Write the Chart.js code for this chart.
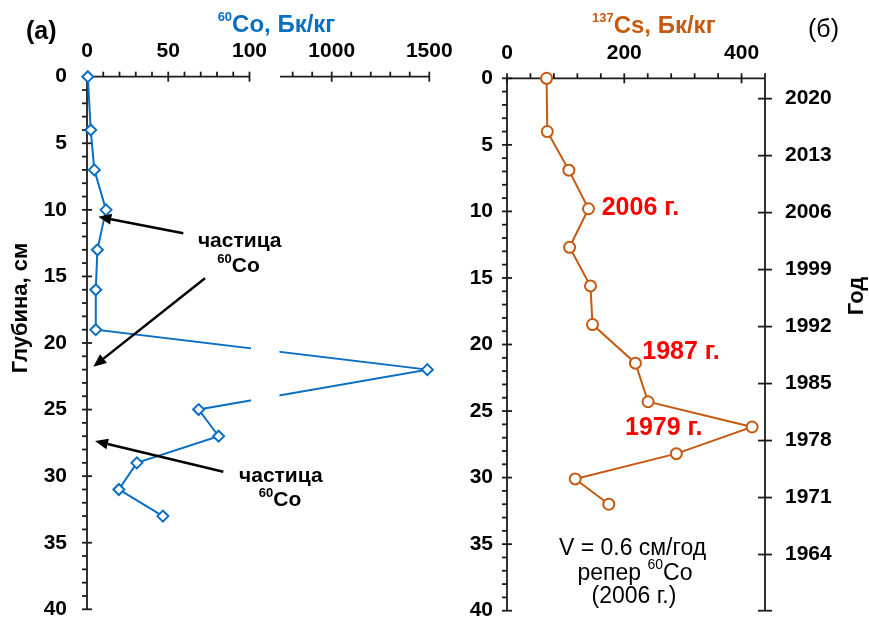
<!DOCTYPE html>
<html><head><meta charset="utf-8">
<script src="https://cdn.jsdelivr.net/npm/chart.js@4"></script>
<style>
html,body{margin:0;padding:0;background:#fff;}
#wrap{position:relative;width:869px;height:619px;overflow:hidden;}
canvas{position:absolute;left:0;top:0;}
</style></head><body>
<div id="wrap"><canvas id="c1" width="869" height="619"></canvas><canvas id="c2" width="869" height="619"></canvas></div>
<script>
// ---- data ----
const coDepth    = [0, 4, 7, 10, 13, 16, 19, 22, 25, 27, 29, 31, 33];
const coActivity = [0.5, 2.3, 4.5, 11.7, 6.4, 5.4, 5.4, 1490, 68.7, 81, 30.7, 19.6, 46.7];
const csDepth    = [0, 4.0, 6.9, 9.8, 12.7, 15.6, 18.5, 21.4, 24.3, 26.2, 28.2, 30.1, 32.0];
const csActivity = [67.5, 68.7, 105.5, 139, 106.7, 142.4, 145.8, 219, 240.6, 418, 288.8, 116.3, 173.6];
const coTickLabels    = [0, 50, 100, 1000, 1500];
const csTickLabels    = [0, 200, 400];
const depthTickLabels = [0, 5, 10, 15, 20, 25, 30, 35, 40];
const yearTickLabels  = [2020, 2013, 2006, 1999, 1992, 1985, 1978, 1971, 1964];

// ---- styles ----
const FONT = "'Liberation Sans', Arial, sans-serif";
const CO_COLOR = '#0B6FC1';
const CS_COLOR = '#C55A11';
const AX = '#1c1c1c';
const tickFont = {family: FONT, size: 21, weight: 'bold'};

// broken axis (low segment 0..100, high segment 735..1500)
const BRK = {from: 100, to: 735, f1: 0.4747, f2: 0.5638};

class BrokenLinearScale extends Chart.LinearScale {
  getPixelForValue(v) {
    const L = this.left, W = this.right - this.left;
    let f;
    if (v <= BRK.from) f = (v - this.min) / (BRK.from - this.min) * BRK.f1;
    else if (v >= BRK.to) f = BRK.f2 + (v - BRK.to) / (this.max - BRK.to) * (1 - BRK.f2);
    else f = BRK.f1 + (v - BRK.from) / (BRK.to - BRK.from) * (BRK.f2 - BRK.f1);
    return L + f * W;
  }
  getValueForPixel(p) {
    const f = (p - this.left) / (this.right - this.left);
    if (f <= BRK.f1) return this.min + f / BRK.f1 * (BRK.from - this.min);
    if (f >= BRK.f2) return BRK.to + (f - BRK.f2) / (1 - BRK.f2) * (this.max - BRK.to);
    return BRK.from + (f - BRK.f1) / (BRK.f2 - BRK.f1) * (BRK.to - BRK.from);
  }
}
BrokenLinearScale.id = 'brokenLinear';
BrokenLinearScale.defaults = Chart.LinearScale.defaults;
Chart.register(BrokenLinearScale);

function seg(ctx, x1, y1, x2, y2) { ctx.beginPath(); ctx.moveTo(x1, y1); ctx.lineTo(x2, y2); ctx.stroke(); }
function rich(ctx, parts, x, y, align, color) {
  let w = 0;
  parts.forEach(p => { ctx.font = p[1]; w += ctx.measureText(p[0]).width; });
  let sx = align === 'center' ? x - w / 2 : (align === 'right' ? x - w : x);
  ctx.textBaseline = 'middle'; ctx.textAlign = 'left'; ctx.fillStyle = color;
  parts.forEach(p => { ctx.font = p[1]; ctx.fillText(p[0], sx, y + (p[2] || 0)); sx += ctx.measureText(p[0]).width; });
}
function arrow(ctx, x1, y1, x2, y2) {
  const a = Math.atan2(y2 - y1, x2 - x1), L = 13, H = 5.5;
  const bx = x2 - L * Math.cos(a), by = y2 - L * Math.sin(a);
  ctx.strokeStyle = '#000'; ctx.lineWidth = 2.5;
  seg(ctx, x1, y1, bx, by);
  ctx.fillStyle = '#000';
  ctx.beginPath(); ctx.moveTo(x2, y2);
  ctx.lineTo(bx + H * Math.sin(a), by - H * Math.cos(a));
  ctx.lineTo(bx - H * Math.sin(a), by + H * Math.cos(a));
  ctx.closePath(); ctx.fill();
}
function depthAxis(ctx, ys, x, top, bottom) {
  seg(ctx, x, top, x, bottom);
  for (let d = ys.min; d <= ys.max; d++) {
    const y = ys.getPixelForValue(d);
    if (d % 5 === 0) seg(ctx, x - 5, y, x + 5, y); else seg(ctx, x - 5, y, x, y);
  }
}
const bold = s => 'bold ' + s + 'px ' + FONT;
const norm = s => s + 'px ' + FONT;

const leftPlugin = {
  id: 'leftDeco',
  beforeDatasetsDraw(chart) {
    const ctx = chart.ctx, xs = chart.scales.x, ys = chart.scales.y, ca = chart.chartArea;
    ctx.save(); ctx.strokeStyle = AX; ctx.lineWidth = 1.8;
    depthAxis(ctx, ys, ca.left, ca.top, ca.bottom);
    const t = ca.top;
    seg(ctx, xs.getPixelForValue(0), t, xs.getPixelForValue(100), t);
    for (let v = 0; v <= 100; v += 10) {
      const x = xs.getPixelForValue(v);
      if (v % 50 === 0) seg(ctx, x, t - 5, x, t + 5); else seg(ctx, x, t - 5, x, t);
    }
    seg(ctx, xs.getPixelForValue(BRK.to), t, xs.getPixelForValue(1500), t);
    for (let v = 800; v <= 1500; v += 100) {
      const x = xs.getPixelForValue(v);
      if (v % 500 === 0) seg(ctx, x, t - 5, x, t + 5); else seg(ctx, x, t - 5, x, t);
    }
    ctx.restore();
  },
  afterDatasetsDraw(chart) {
    const ctx = chart.ctx, xs = chart.scales.x, ca = chart.chartArea;
    const a = xs.getPixelForValue(BRK.from) + 1.5, b = xs.getPixelForValue(BRK.to) - 0.5;
    ctx.save(); ctx.fillStyle = '#fff'; ctx.fillRect(a, ca.top + 4, b - a, ca.bottom - ca.top - 4); ctx.restore();
  },
  afterDraw(chart) {
    const ctx = chart.ctx;
    ctx.save();
    rich(ctx, [['(а)', bold(25)]], 26, 32, 'left', '#000');
    rich(ctx, [['60', bold(13), -8], ['Co, Бк/кг', bold(24)]], 276.5, 25, 'center', CO_COLOR);
    // y title
    ctx.save(); ctx.translate(21, 308); ctx.rotate(-Math.PI / 2);
    ctx.font = bold(22); ctx.fillStyle = '#000'; ctx.textAlign = 'center'; ctx.textBaseline = 'middle';
    ctx.fillText('Глубина, см', 0, 0); ctx.restore();
    // annotations
    arrow(ctx, 183.3, 233.3, 98.3, 216.7);
    arrow(ctx, 205, 278.3, 93.3, 366.7);
    arrow(ctx, 223.3, 471.7, 95, 441);
    rich(ctx, [['частица', bold(21)]], 239.7, 241.7, 'center', '#000');
    rich(ctx, [['60', bold(13), -7], ['Co', bold(21)]], 238.5, 266.7, 'center', '#000');
    rich(ctx, [['частица', bold(21)]], 280.8, 476.7, 'center', '#000');
    rich(ctx, [['60', bold(13), -7], ['Co', bold(21)]], 280, 500, 'center', '#000');
    ctx.restore();
  }
};

const rightPlugin = {
  id: 'rightDeco',
  beforeDatasetsDraw(chart) {
    const ctx = chart.ctx, xs = chart.scales.x, ys = chart.scales.y, yr = chart.scales.yYear, ca = chart.chartArea;
    ctx.save(); ctx.strokeStyle = AX; ctx.lineWidth = 1.8;
    depthAxis(ctx, ys, ca.left, ca.top, ca.bottom);
    const t = ca.top;
    seg(ctx, ca.left, t, ca.right, t);
    for (let v = 0; v <= xs.max; v += 40) {
      const x = xs.getPixelForValue(v);
      if (v % 200 === 0) seg(ctx, x, t - 5, x, t + 5); else seg(ctx, x, t - 5, x, t);
    }
    seg(ctx, ca.right, t, ca.right, ca.bottom);
    yr.ticks.forEach(tk => { const y = yr.getPixelForValue(tk.value); seg(ctx, ca.right - 7, y, ca.right + 7, y); });
    seg(ctx, ca.right - 7, ca.bottom, ca.right + 7, ca.bottom);
    ctx.restore();
  },
  afterDraw(chart) {
    const ctx = chart.ctx;
    ctx.save();
    rich(ctx, [['(б)', norm(25)]], 808, 30, 'left', '#000');
    rich(ctx, [['137', bold(13), -8], ['Cs, Бк/кг', bold(24)]], 653.8, 26.7, 'center', CS_COLOR);
    ctx.save(); ctx.translate(857, 296); ctx.rotate(-Math.PI / 2);
    ctx.font = bold(22); ctx.fillStyle = '#000'; ctx.textAlign = 'center'; ctx.textBaseline = 'middle';
    ctx.fillText('Год', 0, 0); ctx.restore();
    rich(ctx, [['2006 г.', bold(25)]], 601.7, 207.7, 'left', '#FF0000');
    rich(ctx, [['1987 г.', bold(25)]], 642.3, 351.7, 'left', '#FF0000');
    rich(ctx, [['1979 г.', bold(25)]], 625, 428.3, 'left', '#FF0000');
    rich(ctx, [['V = 0.6 см/год', norm(23)]], 632.5, 548.3, 'center', '#000');
    rich(ctx, [['репер ', norm(23)], ['60', norm(14), -8], ['Co', norm(23)]], 635, 573.3, 'center', '#000');
    rich(ctx, [['(2006 г.)', norm(23)]], 634, 596.7, 'center', '#000');
    ctx.restore();
  }
};

const noGrid = {display: false, drawTicks: false};
const noBorder = {display: false};
const numLabel = v => String(v);

new Chart(document.getElementById('c1'), {
  type: 'scatter',
  data: {datasets: [{
    data: coDepth.map((d, i) => ({x: coActivity[i], y: d})),
    showLine: true, borderColor: CO_COLOR, borderWidth: 2,
    pointStyle: 'rectRot', pointRadius: 5.5, pointBorderWidth: 2,
    pointBackgroundColor: '#fff', pointBorderColor: CO_COLOR, clip: false
  }]},
  options: {
    responsive: false, animation: false, events: [],
    layout: {padding: {left: 0, top: 0, right: 869 - 429.3, bottom: 9.7}},
    plugins: {legend: {display: false}, tooltip: {enabled: false}},
    scales: {
      x: {type: 'brokenLinear', position: 'top', min: 0, max: 1500, grid: noGrid, border: noBorder,
          ticks: {font: tickFont, color: '#000', padding: 13, autoSkip: false, maxRotation: 0, callback: numLabel},
          afterBuildTicks: s => { s.ticks = coTickLabels.map(v => ({value: v})); },
          afterFit: s => { s.height = 76.7; s.paddingLeft = 0; s.paddingRight = 0; }},
      y: {type: 'linear', position: 'left', reverse: true, min: 0, max: 40, grid: noGrid, border: noBorder,
          ticks: {font: tickFont, color: '#000', padding: 20, autoSkip: false, callback: numLabel},
          afterBuildTicks: s => { s.ticks = depthTickLabels.map(v => ({value: v})); },
          afterFit: s => { s.width = 87; s.paddingTop = 0; s.paddingBottom = 0; }}
    }
  },
  plugins: [leftPlugin]
});

new Chart(document.getElementById('c2'), {
  type: 'scatter',
  data: {datasets: [{
    data: csDepth.map((d, i) => ({x: csActivity[i], y: d})),
    showLine: true, borderColor: CS_COLOR, borderWidth: 2,
    pointStyle: 'circle', pointRadius: 5.5, pointBorderWidth: 2,
    pointBackgroundColor: '#fff', pointBorderColor: CS_COLOR, clip: false
  }]},
  options: {
    responsive: false, animation: false, events: [],
    layout: {padding: {left: 440, top: 0, right: 0, bottom: 8.3}},
    plugins: {legend: {display: false}, tooltip: {enabled: false}},
    scales: {
      x: {type: 'linear', position: 'top', min: 0, max: 440, grid: noGrid, border: noBorder,
          ticks: {font: tickFont, color: '#000', padding: 12, autoSkip: false, maxRotation: 0, callback: numLabel},
          afterBuildTicks: s => { s.ticks = csTickLabels.map(v => ({value: v})); },
          afterFit: s => { s.height = 78.3; s.paddingLeft = 0; s.paddingRight = 0; }},
      y: {type: 'linear', position: 'left', reverse: true, min: 0, max: 40, grid: noGrid, border: noBorder,
          ticks: {font: tickFont, color: '#000', padding: 14, autoSkip: false, callback: numLabel},
          afterBuildTicks: s => { s.ticks = depthTickLabels.map(v => ({value: v})); },
          afterFit: s => { s.width = 67; s.paddingTop = 0; s.paddingBottom = 0; }},
      yYear: {type: 'linear', position: 'right', min: 1957.1, max: 2022.5, grid: noGrid, border: noBorder,
          ticks: {font: tickFont, color: '#000', padding: 20, autoSkip: false, callback: numLabel},
          afterBuildTicks: s => { s.ticks = yearTickLabels.map(v => ({value: v})); },
          afterFit: s => { s.width = 104; s.paddingTop = 0; s.paddingBottom = 0; }}
    }
  },
  plugins: [rightPlugin]
});
</script>
</body></html>
